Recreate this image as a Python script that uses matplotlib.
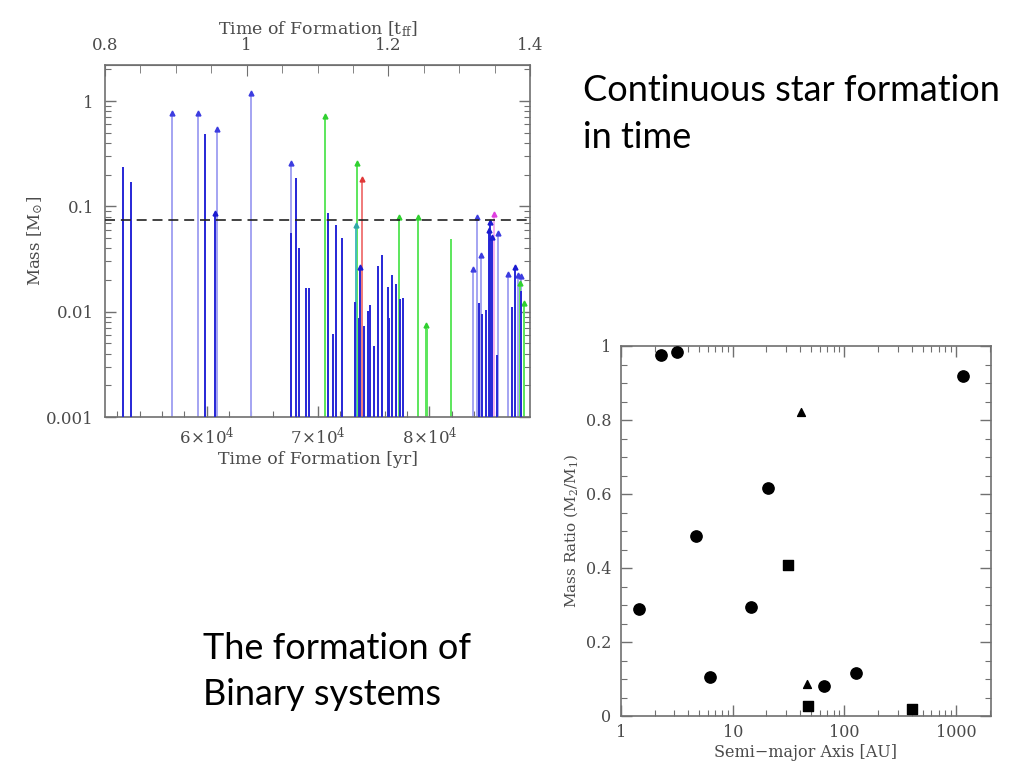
import matplotlib
matplotlib.use('Agg')
import matplotlib.pyplot as plt
from matplotlib.ticker import MultipleLocator, FixedLocator, LogLocator, NullFormatter, FuncFormatter

plt.rcParams['font.family'] = ['DejaVu Serif']
plt.rcParams['mathtext.fontset'] = 'dejavuserif'

# ---------------- top panel data: formation time vs mass ----------------
T_FF = 6.36e4  # yr per free-fall time
form_time = [52470, 53190, 56940, 59260, 59850, 60800, 60920, 64020,
             67620, 67620, 68010, 68280, 68930, 69170, 70650, 70890,
             71340, 71610, 72170, 73330, 73480, 73390, 73660, 73780,
             73930, 74110, 74470, 74710, 75030, 75400, 75740, 76310,
             76400, 76670, 76990, 77260, 77350, 77680, 78990, 79670,
             79760, 81970, 83890, 84290, 84470, 84640, 84760, 85060,
             85360, 85480, 85600, 85780, 86100, 86190, 87030, 87440,
             87680, 87920, 88100, 88220, 88220, 88510]
final_mass = [0.236, 0.169, 0.77, 0.77, 0.49, 0.086, 0.54, 1.2,
              0.257, 0.056, 0.187, 0.0405, 0.0167, 0.0167, 0.72, 0.087,
              0.0061, 0.0666, 0.0498, 0.0124, 0.257, 0.067, 0.0088, 0.0267,
              0.181, 0.0073, 0.0102, 0.0117, 0.0047, 0.027, 0.0345, 0.0171,
              0.0088, 0.0223, 0.0182, 0.080, 0.0131, 0.0135, 0.079, 0.0075,
              0.0068, 0.0488, 0.0252, 0.080, 0.012, 0.0345, 0.0095, 0.0104,
              0.0597, 0.0716, 0.0516, 0.0847, 0.0039, 0.0555, 0.0228, 0.0111,
              0.0264, 0.0223, 0.0186, 0.0216, 0.0156, 0.0122]
track_kind = ['D', 'D', 'L', 'L', 'D', 'D', 'L', 'L',
              'L', 'D', 'D', 'D', 'D', 'D', 'G', 'D',
              'D', 'D', 'D', 'D', 'G', 'C', 'D', 'D',
              'R', 'D', 'D', 'D', 'D', 'D', 'D', 'D',
              'D', 'D', 'D', 'G', 'D', 'D', 'G', 'G',
              'G', 'G', 'L', 'L', 'D', 'L', 'D', 'D',
              'D', 'D', 'D', 'P', 'D', 'L', 'L', 'D',
              'D', 'L', 'G', 'L', 'D', 'G']
accreting = [0, 0, 1, 1, 0, 1, 1, 1,
             1, 0, 0, 0, 0, 0, 1, 0,
             0, 0, 0, 0, 1, 1, 0, 1,
             1, 0, 0, 0, 0, 0, 0, 0,
             0, 0, 0, 1, 0, 0, 1, 1,
             0, 0, 1, 1, 0, 1, 0, 0,
             1, 1, 1, 1, 0, 1, 1, 0,
             1, 1, 1, 1, 0, 1]
hbl_mass = 0.075

line_colors = {'D': '#2626d6', 'L': '#a4a4f2', 'G': '#5ce65c', 'R': '#f07a7a',
               'C': '#48bcbc', 'P': '#f4b0f0'}
head_colors = {'D': '#1a1ad0', 'L': '#3c3ce0', 'G': '#30d030', 'R': '#e03838',
               'C': '#30a8a8', 'P': '#e040e0'}
kind_z = {'L': 2, 'G': 2.2, 'C': 2.4, 'R': 2.4, 'P': 2.4, 'D': 3}

# ---------------- bottom panel data: binaries ----------------
sep_circle = [1.46, 2.27, 3.15, 4.70, 6.22, 14.7, 20.7, 66.2, 126, 1148]
q_circle = [0.290, 0.976, 0.983, 0.486, 0.106, 0.295, 0.616, 0.080, 0.116, 0.919]
sep_square = [31.1, 47, 406]
q_square = [0.409, 0.027, 0.020]
sep_tri = [41.2, 46]
q_tri = [0.822, 0.087]

TXT = '#4a4a4a'
FRAME = '#707070'

fig = plt.figure(figsize=(10.24, 7.68), dpi=100)
fig.patch.set_facecolor('white')

# ================= top chart =================
ax = fig.add_axes([105/1024, 1-417/768, 425/1024, 352/768])
ax.set_yscale('log')
ax.set_xlim(0.8*T_FF, 1.4*T_FF)
ax.set_ylim(0.001, 2.2)

for t, m, k, a in zip(form_time, final_mass, track_kind, accreting):
    ax.vlines(t, 0.001, m, colors=line_colors[k], lw=1.4, zorder=kind_z[k])
    if a:
        ax.plot([t], [m], marker='^', ms=3.5, color=head_colors[k],
                mec=head_colors[k], zorder=kind_z[k] + 0.1, ls='none')

ax.axhline(hbl_mass, color='#222222', lw=1.2, ls=(0, (6, 3.5)), zorder=5)

ax.xaxis.set_major_locator(FixedLocator([6e4, 7e4, 8e4]))
ax.xaxis.set_minor_locator(MultipleLocator(2000))
ax.xaxis.set_major_formatter(FuncFormatter(lambda v, p: r'$%d\!\times\!10^4$' % round(v/1e4)))
ax.yaxis.set_major_locator(LogLocator(base=10, numticks=10))
ax.yaxis.set_minor_locator(LogLocator(base=10, subs=range(2, 10), numticks=10))
ax.yaxis.set_minor_formatter(NullFormatter())
ax.yaxis.set_major_formatter(FuncFormatter(lambda v, p: {1: '1', 0.1: '0.1', 0.01: '0.01', 0.001: '0.001'}.get(round(v, 3), '')))
ax.tick_params(which='both', direction='in', right=True, top=False, colors=FRAME,
               labelcolor=TXT, labelsize=12)
ax.tick_params(which='major', length=8, width=1)
ax.tick_params(which='minor', length=4, width=0.8)
ax.tick_params(axis='x', which='major', pad=7)
ax.tick_params(axis='y', which='major', pad=8)
for s in ax.spines.values():
    s.set_color(FRAME)
    s.set_linewidth(1.2)
ax.set_xlabel('Time of Formation [yr]', color=TXT, fontsize=12.5, labelpad=2)
ax.set_ylabel(r'Mass [M$_{\odot}$]', color=TXT, fontsize=12, labelpad=1)

sec = ax.secondary_xaxis('top', functions=(lambda x: x/T_FF, lambda x: x*T_FF))
sec.xaxis.set_major_locator(FixedLocator([0.8, 1.0, 1.2, 1.4]))
sec.xaxis.set_minor_locator(MultipleLocator(0.05))
sec.xaxis.set_major_formatter(FuncFormatter(lambda v, p: '%g' % round(v, 1)))
sec.tick_params(which='both', direction='in', colors=FRAME, labelcolor=TXT, labelsize=12, pad=8)
sec.tick_params(which='major', length=8)
sec.tick_params(which='minor', length=6)
sec.spines['top'].set_color(FRAME)
sec.set_xlabel(r'Time of Formation [t$_{\rm ff}$]', color=TXT, fontsize=12.5, labelpad=2)

# ================= bottom-right chart =================
bx = fig.add_axes([621/1024, 1-716/768, 370/1024, 370/768])
bx.set_xscale('log')
bx.set_xlim(1, 2050)
bx.set_ylim(0, 1)
bx.scatter(sep_circle, q_circle, s=66, marker='o', color='black', zorder=3)
bx.scatter(sep_square, q_square, s=46, marker='s', color='black', zorder=3)
bx.scatter(sep_tri, q_tri, s=32, marker='^', color='black', zorder=3)
bx.xaxis.set_major_locator(LogLocator(base=10, numticks=10))
bx.xaxis.set_minor_locator(LogLocator(base=10, subs=range(2, 10), numticks=10))
bx.xaxis.set_minor_formatter(NullFormatter())
bx.xaxis.set_major_formatter(FuncFormatter(lambda v, p: '%d' % round(v)))
bx.yaxis.set_major_locator(MultipleLocator(0.2))
bx.yaxis.set_minor_locator(MultipleLocator(0.05))
bx.yaxis.set_major_formatter(FuncFormatter(lambda v, p: '0' if abs(v) < 1e-9 else ('1' if abs(v-1) < 1e-9 else '%.1f' % v)))
bx.tick_params(which='both', direction='in', top=True, right=True, colors=FRAME,
               labelcolor=TXT, labelsize=11.5)
bx.tick_params(which='major', length=8, width=1)
bx.tick_params(which='minor', length=4, width=0.8)
bx.tick_params(axis='x', which='major', pad=6)
bx.tick_params(axis='y', which='major', pad=7)
for s in bx.spines.values():
    s.set_color(FRAME)
    s.set_linewidth(1.2)
bx.set_xlabel('Semi\u2212major Axis [AU]', color=TXT, fontsize=11.5, labelpad=2)
bx.set_ylabel(r'Mass Ratio (M$_2$/M$_1$)', color=TXT, fontsize=11, labelpad=4)

# ================= slide text =================
fig.text(583/1024, 1-101/768, 'Continuous star formation', fontsize=26, family='Lato',
         color='black', va='baseline', ha='left')
fig.text(583/1024, 1-148/768, 'in time', fontsize=26, family='Lato',
         color='black', va='baseline', ha='left')
fig.text(203/1024, 1-659/768, 'The formation of', fontsize=26, family='Lato',
         color='black', va='baseline', ha='left')
fig.text(203/1024, 1-705/768, 'Binary systems', fontsize=26, family='Lato',
         color='black', va='baseline', ha='left')

fig.savefig('out.png', dpi=100, facecolor='white')
